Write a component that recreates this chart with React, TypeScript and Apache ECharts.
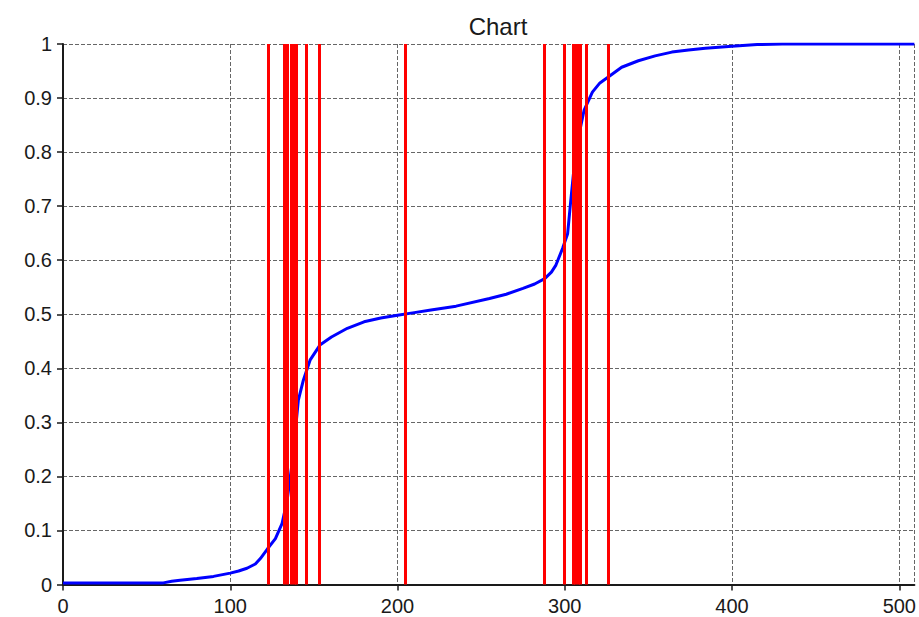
import React, { useEffect, useRef } from "react";
import * as echarts from "echarts";

const curveX = [0, 20, 40, 60, 65, 70, 80, 90, 100, 105, 110, 115, 118, 122.5, 127, 131, 134, 136.7, 138.8, 140.7, 143.7, 147.7, 153.6, 160.5, 170, 180, 190, 200, 210, 220, 235, 255, 265, 275, 282, 288, 292, 294.7, 298.7, 301.7, 303.6, 305.6, 308.6, 311.5, 316.5, 321, 326, 334, 344, 354, 364, 374, 384, 400, 415, 430, 509];
const curveY = [0.003, 0.003, 0.003, 0.003, 0.006, 0.008, 0.011, 0.015, 0.021, 0.025, 0.03, 0.038, 0.048, 0.067, 0.085, 0.113, 0.156, 0.218, 0.28, 0.341, 0.378, 0.415, 0.443, 0.458, 0.474, 0.486, 0.493, 0.498, 0.503, 0.508, 0.515, 0.529, 0.537, 0.548, 0.556, 0.566, 0.578, 0.591, 0.622, 0.649, 0.711, 0.773, 0.834, 0.877, 0.911, 0.928, 0.939, 0.957, 0.969, 0.978, 0.985, 0.989, 0.992, 0.996, 0.999, 1, 1];
const markers = [122.5, 132.0, 134.2, 136.5, 138.0, 139.5, 145.2, 153.5, 204.5, 288.0, 299.8, 304.8, 306.3, 307.8, 309.0, 313.1, 326.0];
const xTicks = [0, 100, 200, 300, 400, 500];
const yTicks = [0, 0.1, 0.2, 0.3, 0.4, 0.5, 0.6, 0.7, 0.8, 0.9, 1];

export default function App() {
  const ref = useRef<HTMLDivElement>(null);
  useEffect(() => {
    if (!ref.current) return;
    const chart = echarts.init(ref.current, null, { renderer: "svg" });
    const font = "'Liberation Sans', Arial, sans-serif";
    const gridLine = { show: true, lineStyle: { color: "#666", type: [4, 2] as any, width: 1 } };
    chart.setOption({
      animation: false,
      backgroundColor: "#ffffff",
      title: {
        text: "Chart",
        left: 493,
        top: 9,
        textAlign: "center",
        textStyle: { fontFamily: font, fontSize: 24, fontWeight: "normal", color: "#1a1a1a" },
      },
      grid: { left: 63, right: 0, top: 44, bottom: 32.5, containLabel: false },
      xAxis: {
        type: "value",
        min: 0,
        max: 509,
        interval: 100,
        axisLine: { show: true, onZero: false, lineStyle: { color: "#1a1a1a", width: 2 } },
        axisTick: { show: true, length: 6, lineStyle: { color: "#1a1a1a", width: 1.5 } },
        axisLabel: {
          fontFamily: font, fontSize: 20, color: "#1a1a1a", margin: 11, showMaxLabel: false,
          formatter: (v: number) => (xTicks.includes(v) ? String(v) : ""),
        },
        splitLine: gridLine,
      },
      yAxis: {
        type: "value",
        min: 0,
        max: 1,
        interval: 0.1,
        axisLine: { show: true, lineStyle: { color: "#1a1a1a", width: 2 } },
        axisTick: { show: true, length: 6, lineStyle: { color: "#1a1a1a", width: 1.5 } },
        axisLabel: {
          fontFamily: font, fontSize: 20, color: "#1a1a1a", margin: 11,
          formatter: (v: number) => {
            const t = yTicks.find((k) => Math.abs(k - v) < 1e-6);
            return t === undefined ? "" : String(t);
          },
        },
        splitLine: gridLine,
      },
      series: [
        {
          type: "line",
          data: curveX.map((x, i) => [x, curveY[i]]),
          showSymbol: false,
          lineStyle: { color: "#0000ff", width: 3 },
          z: 2,
        },
        {
          type: "line",
          data: [],
          z: 3,
          markLine: {
            silent: true,
            symbol: ["none", "none"],
            label: { show: false },
            lineStyle: { color: "#ff0000", width: 3, type: "solid" },
            data: markers.map((m) => ({ xAxis: m })),
          },
        },
      ],
    });
    return () => chart.dispose();
  }, []);
  return (
    <div
      ref={ref}
      style={{ position: "fixed", left: 0, top: 0, width: 919, height: 617, background: "#fff" }}
    />
  );
}
